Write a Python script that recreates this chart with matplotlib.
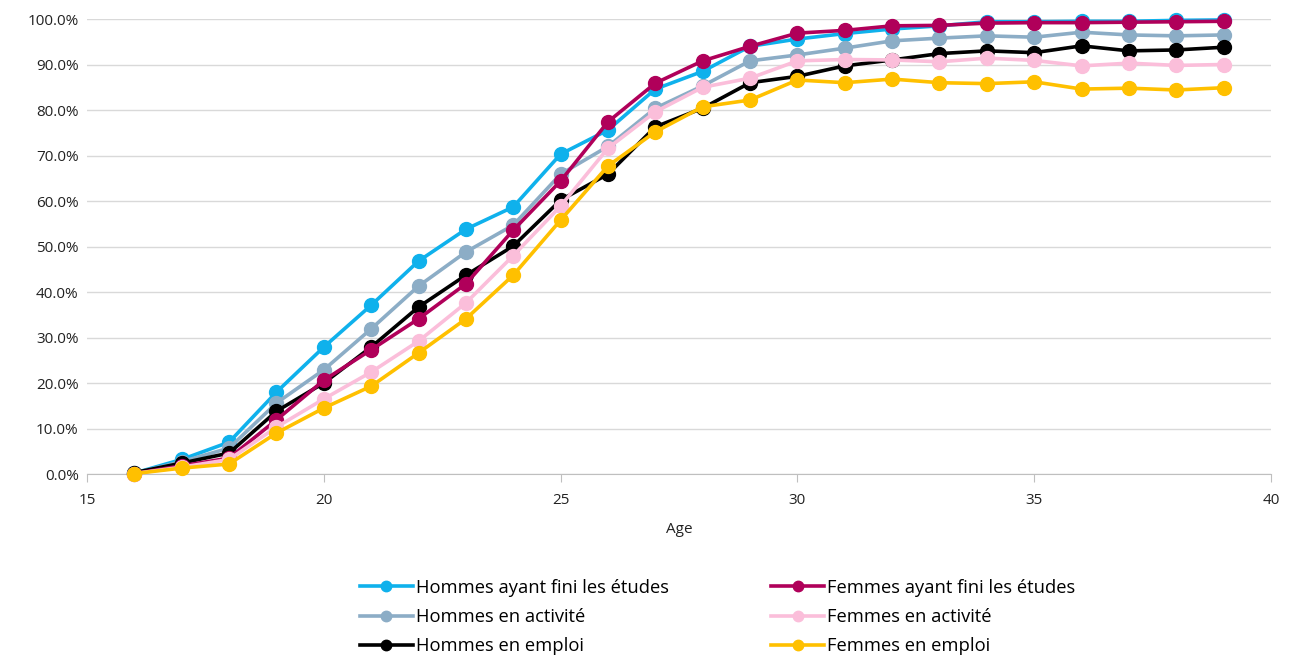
import matplotlib.pyplot as plt
from matplotlib.ticker import FuncFormatter, MultipleLocator

plt.rcParams['font.family'] = ['Open Sans', 'DejaVu Sans']

# Âges observés
ages = list(range(16, 40))

# Parts (en %) par âge
hommes_fini = [0.2, 3.2, 7.0, 18.0, 27.9, 37.1, 46.8, 53.8, 58.7, 70.3, 75.6, 84.6,
               88.5, 94.0, 95.6, 96.8, 97.8, 98.5, 99.4, 99.4, 99.5, 99.5, 99.7, 99.8]
femmes_fini = [0.1, 1.8, 3.5, 11.9, 20.6, 27.3, 34.1, 41.8, 53.6, 64.4, 77.4, 85.9,
               90.8, 94.0, 96.9, 97.5, 98.5, 98.6, 99.1, 99.2, 99.2, 99.3, 99.4, 99.5]
hommes_activite = [0.2, 2.7, 5.7, 15.6, 22.9, 31.9, 41.3, 48.8, 54.7, 65.9, 72.0, 80.4,
                   85.3, 90.8, 92.1, 93.6, 95.2, 95.8, 96.3, 96.0, 97.1, 96.5, 96.3, 96.5]
femmes_activite = [0.1, 1.5, 3.2, 10.3, 16.5, 22.4, 29.2, 37.6, 48.0, 58.9, 71.6, 79.6,
                   85.0, 87.0, 90.8, 91.1, 91.0, 90.6, 91.4, 90.9, 89.7, 90.3, 89.8, 90.0]
hommes_emploi = [0.3, 2.4, 4.6, 13.8, 20.0, 27.9, 36.7, 43.7, 50.1, 60.2, 65.9, 76.3,
                 80.4, 86.0, 87.4, 89.7, 91.0, 92.4, 93.0, 92.6, 94.1, 93.0, 93.2, 93.8]
femmes_emploi = [0.1, 1.3, 2.2, 9.0, 14.5, 19.3, 26.6, 34.1, 43.7, 55.8, 67.7, 75.2,
                 80.7, 82.2, 86.6, 86.0, 86.8, 86.0, 85.8, 86.2, 84.6, 84.8, 84.4, 84.9]

series = [
    ('Hommes ayant fini les études', hommes_fini, '#0FB1EC'),
    ('Hommes en activité', hommes_activite, '#8CADC6'),
    ('Hommes en emploi', hommes_emploi, '#000000'),
    ('Femmes ayant fini les études', femmes_fini, '#B0005A'),
    ('Femmes en activité', femmes_activite, '#FBBEDA'),
    ('Femmes en emploi', femmes_emploi, '#FFC000'),
]
# ordre de tracé (le dernier passe au-dessus)
draw_order = [0, 3, 1, 4, 2, 5]

fig = plt.figure(figsize=(12.93, 6.6), dpi=100)
ax = fig.add_axes([0.0673, 0.2818, 0.9157, 0.6894])

lines = {}
for i in draw_order:
    label, vals, color = series[i]
    ln, = ax.plot(ages, vals, color=color, lw=2.6, marker='o', markersize=10,
                  label=label, clip_on=False, zorder=3 + i)
    lines[i] = ln

ax.set_xlim(15, 40)
ax.set_ylim(0, 100)
ax.xaxis.set_major_locator(MultipleLocator(5))
ax.yaxis.set_major_locator(MultipleLocator(10))
ax.yaxis.set_major_formatter(FuncFormatter(lambda v, p: f'{v:.1f}%'))

ax.grid(axis='y', color='#D9D9D9', lw=1.0)
ax.set_axisbelow(True)
for s in ['top', 'right', 'left']:
    ax.spines[s].set_visible(False)
ax.spines['bottom'].set_color('#BFBFBF')
ax.tick_params(axis='y', length=0, labelsize=11, colors='#222222', pad=6)
ax.tick_params(axis='x', length=6, color='#BFBFBF', labelsize=11, colors='#222222', pad=8)
ax.set_xlabel('Age', fontsize=11, color='#222222', labelpad=10)

handles = [lines[i] for i in range(6)]
fig.legend(handles, [s[0] for s in series], ncol=2, loc='lower center',
           bbox_to_anchor=(0.555, -0.018), frameon=False, fontsize=13.2,
           handlelength=2.9, handletextpad=0.15, columnspacing=5.6,
           labelspacing=0.62, markerscale=0.75)

fig.savefig('out.png', dpi=100)
